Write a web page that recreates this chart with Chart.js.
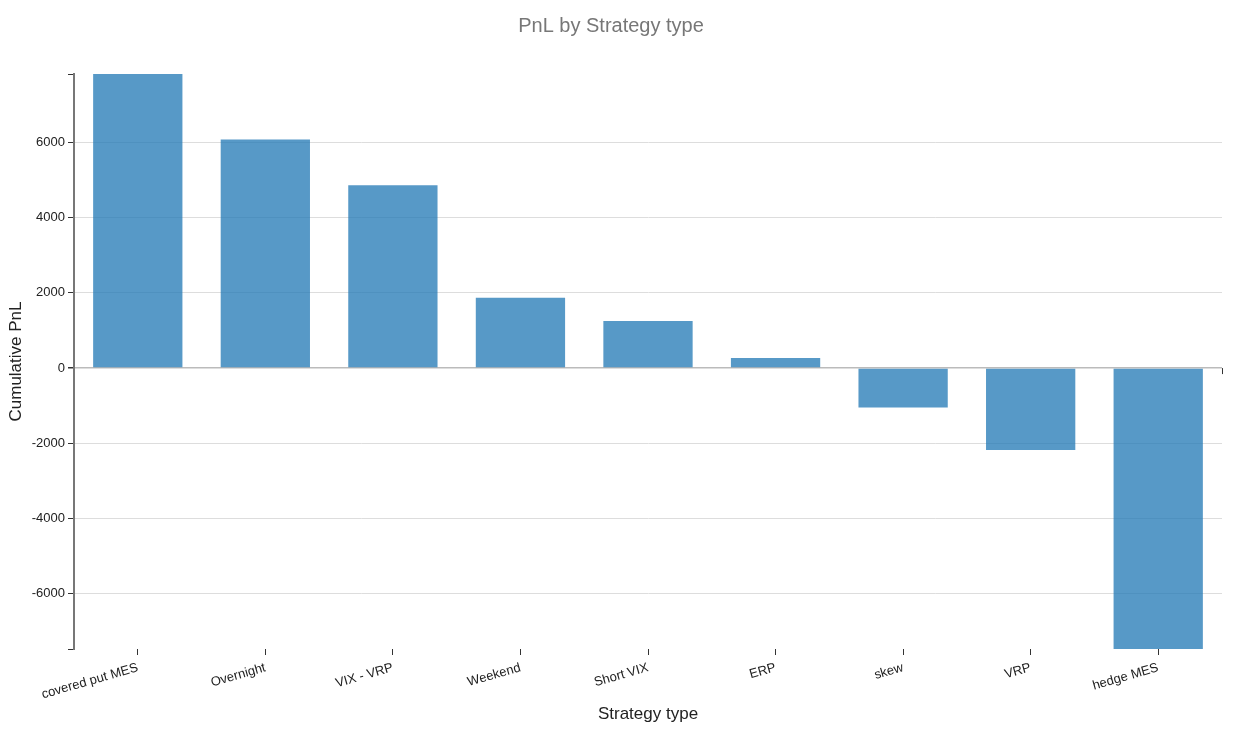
<!DOCTYPE html>
<html>
<head>
<meta charset="utf-8">
<script src="https://cdn.jsdelivr.net/npm/chart.js@4"></script>
<style>
  html, body { margin: 0; padding: 0; background: #fff; }
  #wrap { width: 1243px; height: 741px; }
</style>
</head>
<body>
<div id="wrap"><canvas id="c" width="1243" height="741"></canvas></div>
<script>
// data
const strategies = ["covered put MES","Overnight","VIX - VRP","Weekend","Short VIX","ERP","skew","VRP","hedge MES"];
const pnl = [7820, 6080, 4860, 1870, 1250, 270, -1045, -2180, -7470];
const yMin = -7470;
const yMax = 7820;
const yTicks = [-6000, -4000, -2000, 0, 2000, 4000, 6000];

const FONT = '"Helvetica Neue", Helvetica, Arial, "Liberation Sans", sans-serif';
const isLabelled = v => yTicks.includes(v);

// small outer tick at the right end of the zero line
const zeroEndTick = {
  id: "zeroEndTick",
  afterDatasetsDraw(chart){
    const y = chart.scales.y.getPixelForValue(0);
    const x = chart.chartArea.right;
    const ctx = chart.ctx;
    ctx.save();
    ctx.strokeStyle = "#333";
    ctx.lineWidth = 1;
    ctx.beginPath();
    ctx.moveTo(x + 0.5, y);
    ctx.lineTo(x + 0.5, y + 6);
    ctx.stroke();
    ctx.restore();
  }
};

new Chart(document.getElementById("c").getContext("2d"), {
  type: "bar",
  data: {
    labels: strategies,
    datasets: [{
      label: "PnL",
      data: pnl,
      backgroundColor: "rgba(31,119,180,0.75)",
      borderWidth: 0,
      categoryPercentage: 1,
      barPercentage: 0.7
    }]
  },
  options: {
    responsive: false,
    animation: false,
    layout: { padding: { left: 0, right: 21, top: 0, bottom: 0 } },
    plugins: {
      legend: { display: false },
      tooltip: { enabled: false },
      title: {
        display: true,
        text: "PnL by Strategy type",
        color: "#777",
        font: { family: FONT, size: 20, weight: "normal" },
        padding: { top: 14, bottom: 36 }
      }
    },
    scales: {
      x: {
        border: { display: false },
        grid: { drawOnChartArea: false, offset: false, tickLength: 6, tickColor: "#333" },
        ticks: {
          color: "#222",
          font: { family: FONT, size: 13 },
          minRotation: 16,
          maxRotation: 16,
          padding: 5
        },
        title: {
          display: true,
          text: "Strategy type",
          color: "#222",
          font: { family: FONT, size: 17 },
          padding: { top: 4, bottom: 16 }
        },
        afterFit(scale){ scale.height = 92; }
      },
      y: {
        min: yMin,
        max: yMax,
        afterBuildTicks(scale){
          scale.ticks = [yMin, ...yTicks, yMax].map(v => ({ value: v }));
        },
        border: { display: true, color: "#777", width: 2 },
        grid: {
          color: ctx => {
            const v = ctx.tick.value;
            if (v === 0) return "#bbb";
            return isLabelled(v) ? "#ddd" : "rgba(0,0,0,0)";
          },
          lineWidth: ctx => ctx.tick.value === 0 ? 1.5 : 1,
          tickColor: "#333",
          tickLength: 6
        },
        ticks: {
          color: "#222",
          font: { family: FONT, size: 13 },
          padding: 3,
          callback: v => isLabelled(v) ? String(v) : ""
        },
        title: {
          display: true,
          text: "Cumulative PnL",
          color: "#222",
          font: { family: FONT, size: 17 },
          padding: { top: 6, bottom: 4 }
        },
        afterFit(scale){ scale.width = 74; }
      }
    }
  },
  plugins: [zeroEndTick]
});
</script>
</body>
</html>
